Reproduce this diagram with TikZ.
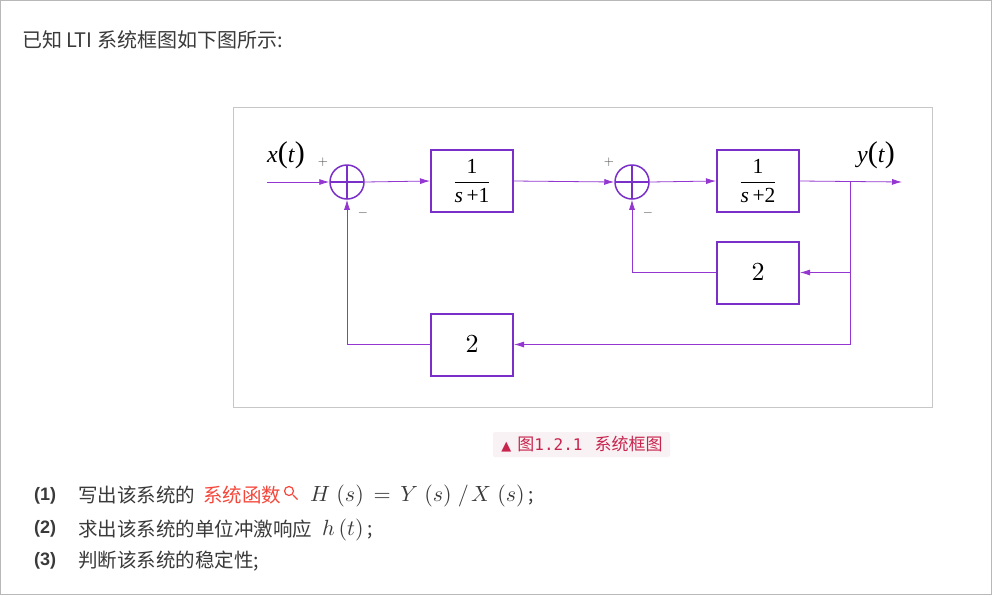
\documentclass[tikz,border=0pt]{standalone}
\usepackage{amsmath}
\usepackage{graphicx}
\usepackage{fontspec}
\usetikzlibrary{arrows.meta}
\newfontfamily\cjk{Noto Sans CJK SC}
\newfontfamily\arial{Liberation Sans}
\newfontfamily\tnr{Liberation Serif}
\newfontfamily\mono{DejaVu Sans Mono}
\newfontfamily\dejavu{DejaVu Sans}
\definecolor{lnc}{HTML}{9436D0}
\definecolor{bxc}{HTML}{7A2FC8}
\definecolor{txt}{HTML}{3A3A3A}
\definecolor{capc}{HTML}{C7254E}
\definecolor{capbg}{HTML}{F9F2F4}
\definecolor{redc}{HTML}{F5483B}
\begin{document}
\begin{tikzpicture}[x=1pt,y=-1pt,
  sig/.style={draw=lnc, line width=0.8pt},
  arr/.style={sig,-{Latex[length=10pt,width=6pt]}},
  blk/.style={draw=bxc, line width=2pt, minimum width=82pt, minimum height=62pt, inner sep=0pt, fill=white},
  sumc/.style={circle, draw=bxc, line width=1.5pt, minimum size=34pt, inner sep=0pt,
    path picture={\draw[bxc,line width=1.5pt] (path picture bounding box.north) -- (path picture bounding box.south) (path picture bounding box.west) -- (path picture bounding box.east);}},
  sgn/.style={text=black!70, inner sep=0pt},
  sigl/.style={font=\tnr\fontsize{24}{26}\selectfont, inner sep=0pt},
  cn/.style={font=\cjk\fontsize{19.5}{22}\selectfont, text=txt, inner sep=0pt},
  num/.style={font=\arial\bfseries\fontsize{18}{20}\selectfont, text=txt, inner sep=0pt},
  mth/.style={inner sep=0pt, text=txt},
]
\useasboundingbox (0,0) rectangle (992,595);
\fill[white] (0,0) rectangle (992,595);
\draw[black!28, line width=1pt] (0.5,0.5) rectangle (991.5,594.5);
\node[cn, anchor=west, font=\cjk\fontsize{20}{22}\selectfont] (title) at (22,40) {已知 LTI 系统框图如下图所示:};

% diagram frame
\draw[black!22, line width=0.8pt] (233.5,107.5) rectangle (932.5,407.5);

% nodes
\node[blk] (b1) at (472,181) {\scalebox{2.15}{$\dfrac{\text{\tnr 1}}{\text{\tnr\textit{s}\,+1}}$}};
\node[blk] (b2) at (758,181) {\scalebox{2.15}{$\dfrac{\text{\tnr 1}}{\text{\tnr\textit{s}\,+2}}$}};
\node[blk] (b3) at (758,272.5) {\scalebox{2.6}{$2$}};
\node[blk] (b4) at (472,344.5) {\scalebox{2.6}{$2$}};
\node[sumc] (s1) at (347,182) {};
\node[sumc] (s2) at (632,182) {};
\coordinate (in) at (267,182);
\coordinate (out) at (902,182);
\coordinate (br) at (850,182);
\coordinate (br2) at (850,344.5);

% connectors
\draw[arr] (in) -- (s1.west);
\draw[arr] (s1.east) -- (b1.west);
\draw[arr] (b1.east) -- (s2.west);
\draw[arr] (s2.east) -- (b2.west);
\draw[arr] (b2.east) -- (out);
\draw[sig] (br) -- (br2);
\draw[arr] (b3.east -| br) -- (b3.east);
\draw[arr] (br2) -- (b4.east);
\draw[arr] (b3.west) -| (s2.south);
\draw[arr] (b4.west) -| (s1.south);

% labels
\node[sigl] (xl) at (286,155) {\textit{x}{\fontsize{30}{30}\selectfont(}\textit{t}{\fontsize{30}{30}\selectfont)}};
\node[sigl] (yl) at (876,155) {\textit{y}{\fontsize{30}{30}\selectfont(}\textit{t}{\fontsize{30}{30}\selectfont)}};
\node[sgn] (p1) at (323,162) {\scalebox{1.3}{$+$}};
\node[sgn] (m1) at (363,213) {\scalebox{1.3}{$-$}};
\node[sgn] (p2) at (609,162) {\scalebox{1.3}{$+$}};
\node[sgn] (m2) at (648,213) {\scalebox{1.3}{$-$}};

% caption
\node[fill=capbg, rounded corners=2pt, minimum width=177pt, minimum height=25pt, inner sep=0pt] (capbox) at (581.5,444.5) {};
\node[text=capc, inner sep=0pt, font=\fontsize{16}{18}\selectfont] (cap) at (582,444.5) {{\dejavu\fontsize{13}{14}\selectfont ▲}\hspace{6pt}{\cjk\fontsize{17}{18}\selectfont 图}{\mono 1.2.1}\hspace{12pt}{\cjk\fontsize{17}{18}\selectfont 系统框图}};

% questions
\node[num, anchor=west] (n1) at (34,496) {(1)};
\node[num, anchor=west] (n2) at (34,529) {(2)};
\node[num, anchor=west] (n3) at (34,561) {(3)};
\node[cn, anchor=west] (q1a) at (78,495) {写出该系统的};
\node[cn, anchor=west, text=redc] (q1b) at (203,495) {系统函数};
\coordinate (ic) at (289,491);
\draw[redc, line width=1.2pt] (ic) circle (4.5pt);
\draw[redc, line width=1.4pt] (293,495) -- (297.5,499.5);
\node[mth, anchor=west] (q1c) at (310,496) {\scalebox{2.2}{$H\mkern2mu\left(s\right)\mkern3mu=\mkern3mu Y\mkern2mu\left(s\right)\mkern2mu/\mkern2mu X\mkern2mu\left(s\right)$}{\cjk\fontsize{19}{20}\selectfont\ ;}};
\node[cn, anchor=west] (q2a) at (78,529) {求出该系统的单位冲激响应};
\node[mth, anchor=west] (q2b) at (322,530) {\scalebox{2.2}{$h\left(t\right)$}{\cjk\fontsize{19}{20}\selectfont\ ;}};
\node[cn, anchor=west] (q3) at (78,561) {判断该系统的稳定性;};
\end{tikzpicture}
\end{document}
